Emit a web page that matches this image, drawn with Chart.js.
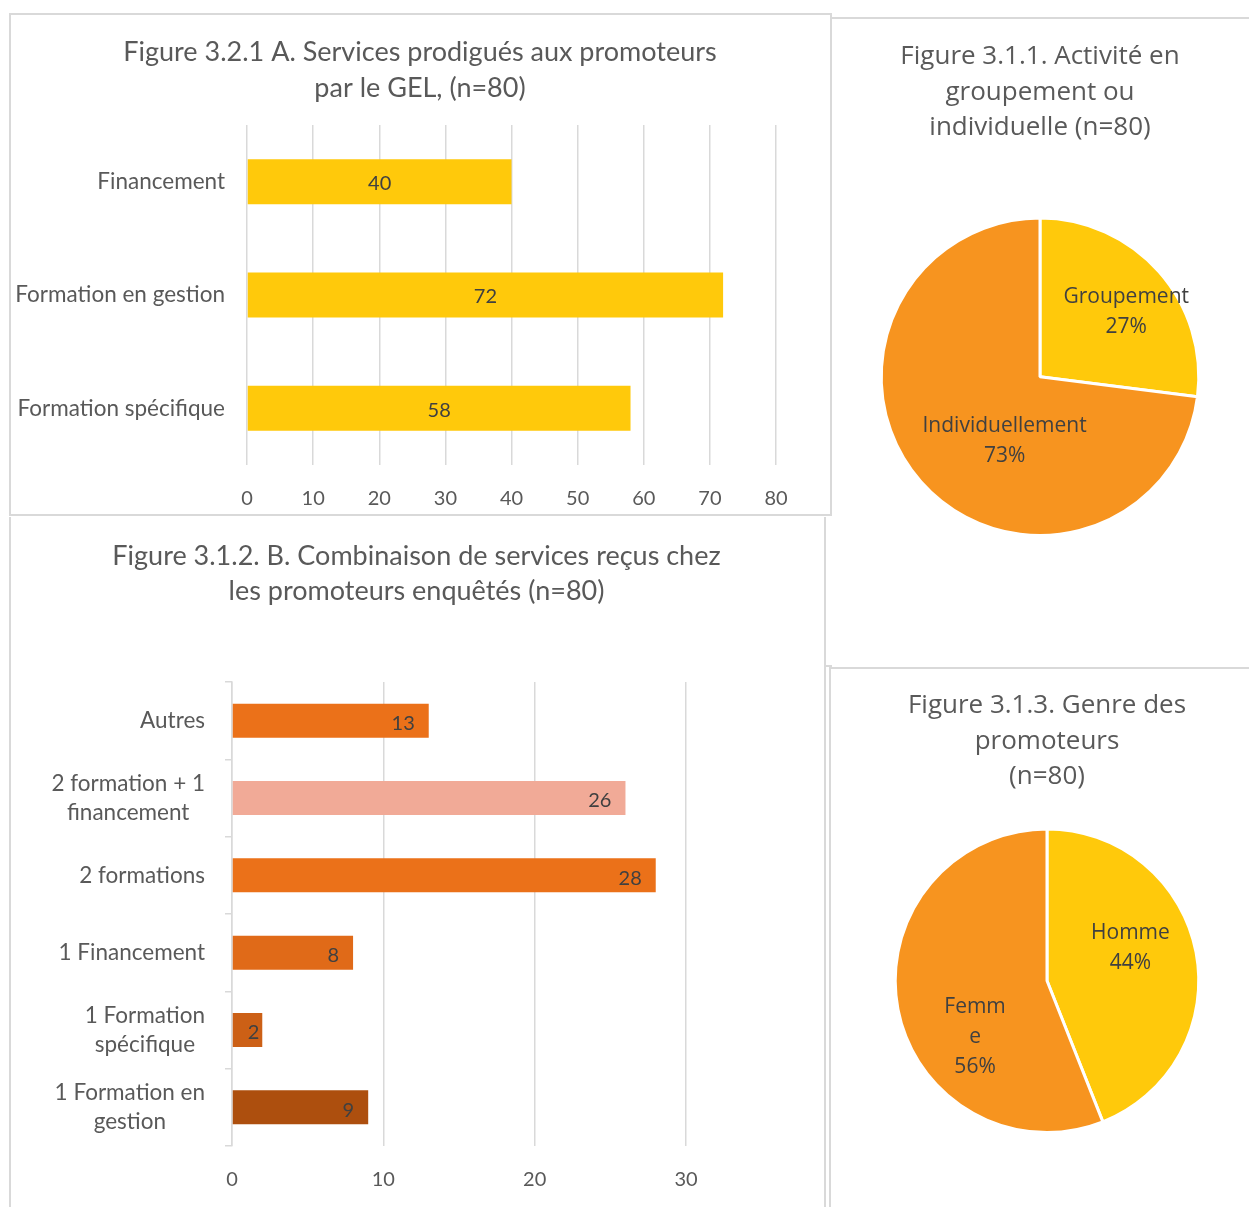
<!DOCTYPE html>
<html lang="fr">
<head>
<meta charset="utf-8">
<title>Services aux promoteurs</title>
<script src="https://cdn.jsdelivr.net/npm/chart.js@4/dist/chart.umd.min.js"></script>
<style>
  body { margin: 0; background: #fff; width: 1249px; height: 1207px; overflow: hidden; position: relative; }
  .panel { position: absolute; box-sizing: border-box; border: 2px solid #d9d9d9; }
  .line { position: absolute; background: #d9d9d9; }
  canvas { position: absolute; }
</style>
</head>
<body>
<div class="panel" style="left:9px;top:13px;width:823px;height:503px;"></div>
<div class="panel" style="left:831px;top:17px;width:430px;height:652px;border-left:none;"></div>
<div class="line" style="left:824px;top:665px;width:8px;height:2px;"></div>
<div class="panel" style="left:9px;top:517px;width:817px;height:720px;border-top:none;"></div>
<div class="panel" style="left:829px;top:667px;width:430px;height:560px;border-top:none;border-right:none;"></div>

<canvas id="servicesChart" style="left:11px;top:15px;" width="818" height="498"></canvas>
<canvas id="activiteChart" style="left:831px;top:19px;" width="418" height="646"></canvas>
<canvas id="combinaisonChart" style="left:11px;top:519px;" width="811" height="688"></canvas>
<canvas id="genreChart" style="left:831px;top:669px;" width="418" height="538"></canvas>

<script>
// Figure 3.2.1 A
const servicesLabels = ['Financement', 'Formation en gestion', 'Formation spécifique'];
const servicesValues = [40, 72, 58];

// Figure 3.1.1
const activiteLabels = ['Groupement', 'Individuellement'];
const activiteValues = [27, 73];

// Figure 3.1.2 B
const combinaisonLabels = [
  'Autres',
  ['2 formation + 1', 'financement'],
  '2 formations',
  '1 Financement',
  ['1 Formation', 'spécifique'],
  ['1 Formation en', 'gestion']
];
const combinaisonValues = [13, 26, 28, 8, 2, 9];

// Figure 3.1.3
const genreLabels = ['Homme', ['Femm', 'e']];
const genreValues = [44, 56];

const textGrey = '#595959';
const labelGrey = '#404040';
const gridGrey = '#d9d9d9';
const barFont = 'Lato';
const pieFont = "'Open Sans'";

Chart.defaults.animation = false;
Chart.defaults.font.family = barFont;
Chart.defaults.color = textGrey;
Chart.defaults.plugins.legend.display = false;
Chart.defaults.plugins.tooltip.enabled = false;

// valeurs sur les barres / secteurs
const valueLabels = {
  id: 'valueLabels',
  afterDatasetsDraw(chart, args, opts) {
    if (!opts.mode) return;
    const ctx = chart.ctx;
    const meta = chart.getDatasetMeta(0);
    const data = chart.data.datasets[0].data;
    ctx.save();
    ctx.fillStyle = labelGrey;
    ctx.font = opts.font;
    ctx.textAlign = 'center';
    ctx.textBaseline = 'middle';
    meta.data.forEach((el, i) => {
      const v = String(data[i]);
      if (opts.mode === 'center') {
        ctx.fillText(v, (el.x + el.base) / 2, el.y + 2);
      } else if (opts.mode === 'end') {
        const w = ctx.measureText(v).width;
        let x = el.x - 14 - w / 2;
        if (el.x - el.base < w + 20) x = el.x - 3 - w / 2;
        ctx.fillText(v, x, el.y + 3);
      } else if (opts.mode === 'pie') {
        const p = opts.pos[i];
        const a = (el.startAngle + el.endAngle) / 2 + p[0] * Math.PI / 180;
        const r = el.outerRadius * p[1];
        const cx = el.x + Math.cos(a) * r;
        const cy = el.y + Math.sin(a) * r;
        const lines = [].concat(chart.data.labels[i], v + '%');
        const lh = opts.lineHeight;
        lines.forEach((t, k) => {
          ctx.fillText(t, cx, cy + (k - (lines.length - 1) / 2) * lh);
        });
      }
    });
    ctx.restore();
  }
};

// étiquettes de catégories : bloc aligné à droite, lignes centrées
const blockLabels = {
  id: 'blockLabels',
  afterDraw(chart, args, opts) {
    if (!opts.font) return;
    const ctx = chart.ctx;
    const yScale = chart.scales.y;
    ctx.save();
    ctx.font = opts.font;
    ctx.fillStyle = textGrey;
    ctx.textAlign = 'center';
    ctx.textBaseline = 'middle';
    chart.data.labels.forEach((lab, i) => {
      const lines = [].concat(lab);
      const bw = Math.max(...lines.map(t => ctx.measureText(t).width));
      const cx = chart.chartArea.left - opts.gap - bw / 2;
      const cy = yScale.getPixelForValue(i);
      lines.forEach((t, k) => {
        ctx.fillText(t, cx, cy + (k - (lines.length - 1) / 2) * opts.lineHeight);
      });
    });
    ctx.restore();
  }
};

Chart.register(valueLabels, blockLabels);

// axe vide à droite : réserve la marge sans décentrer le titre
function spacerAxis(w) {
  return {
    type: 'category', position: 'right', display: true,
    ticks: { display: false }, grid: { display: false }, border: { display: false },
    afterFit(scale) { scale.width = w; }
  };
}

new Chart(document.getElementById('servicesChart'), {
  type: 'bar',
  data: {
    labels: servicesLabels,
    datasets: [{
      data: servicesValues,
      backgroundColor: '#FFC90B',
      categoryPercentage: 1,
      barPercentage: 0.397
    }]
  },
  options: {
    responsive: false,
    indexAxis: 'y',
    layout: { padding: 0 },
    plugins: {
      title: {
        display: true,
        text: ['Figure 3.2.1 A. Services prodigués aux promoteurs', 'par le GEL, (n=80)'],
        color: textGrey,
        font: { family: barFont, size: 27, weight: 'normal', lineHeight: 36 / 27 },
        padding: { top: 19, bottom: 19 }
      },
      valueLabels: { mode: 'center', font: '20px ' + barFont }
    },
    scales: {
      x: {
        min: 0, max: 80,
        ticks: { stepSize: 10, padding: 22, font: { size: 20 }, color: textGrey },
        grid: { color: gridGrey, lineWidth: 1.5, drawTicks: false },
        border: { display: false },
        afterFit(scale) { scale.height = 48; }
      },
      y: {
        ticks: { padding: 14, font: { size: 22.5 }, color: textGrey },
        grid: { display: false },
        border: { display: false },
        afterFit(scale) { scale.width = 236; }
      },
      pad: spacerAxis(53)
    }
  }
});

new Chart(document.getElementById('activiteChart'), {
  type: 'pie',
  data: {
    labels: activiteLabels,
    datasets: [{
      data: activiteValues,
      backgroundColor: ['#FFC90B', '#F7941F'],
      borderColor: '#ffffff',
      borderWidth: 3
    }]
  },
  options: {
    responsive: false,
    layout: { padding: { left: 0, right: 0, top: 0, bottom: 128 } },
    plugins: {
      title: {
        display: true,
        text: ['Figure 3.1.1. Activité en', 'groupement ou', 'individuelle (n=80)'],
        color: textGrey,
        font: { family: pieFont, size: 26, weight: 'normal', lineHeight: 35.5 / 26 },
        padding: { top: 20, bottom: 71 }
      },
      valueLabels: { mode: 'pie', font: '21px ' + pieFont, lineHeight: 30, pos: [[4.4, 0.68], [-19.6, 0.46]] }
    }
  }
});

new Chart(document.getElementById('combinaisonChart'), {
  type: 'bar',
  data: {
    labels: combinaisonLabels,
    datasets: [{
      data: combinaisonValues,
      backgroundColor: ['#EB7119', '#F1AA97', '#EB7119', '#E06A18', '#CC6016', '#AD4F0E'],
      categoryPercentage: 1,
      barPercentage: 0.44
    }]
  },
  options: {
    responsive: false,
    indexAxis: 'y',
    layout: { padding: 0 },
    plugins: {
      title: {
        display: true,
        text: ['Figure 3.1.2. B. Combinaison de services reçus chez', 'les promoteurs enquêtés (n=80)'],
        color: textGrey,
        font: { family: barFont, size: 27, weight: 'normal', lineHeight: 35 / 27 },
        padding: { top: 20, bottom: 73 }
      },
      valueLabels: { mode: 'end', font: '20px ' + barFont },
      blockLabels: { font: '22.5px ' + barFont, gap: 27, lineHeight: 29 }
    },
    scales: {
      x: {
        min: 0, max: 30,
        ticks: { stepSize: 10, padding: 22, font: { size: 20 }, color: textGrey },
        grid: { color: gridGrey, lineWidth: 1.5, drawTicks: false },
        border: { display: false },
        afterFit(scale) { scale.height = 61; }
      },
      y: {
        ticks: { display: false },
        grid: { color: gridGrey, lineWidth: 1.5, offset: true, drawOnChartArea: false, drawTicks: true, tickLength: 7 },
        border: { display: true, color: gridGrey, width: 1.5 },
        afterFit(scale) { scale.width = 221; }
      },
      pad: spacerAxis(136)
    }
  }
});

new Chart(document.getElementById('genreChart'), {
  type: 'pie',
  data: {
    labels: genreLabels,
    datasets: [{
      data: genreValues,
      backgroundColor: ['#FFC90B', '#F7941F'],
      borderColor: '#ffffff',
      borderWidth: 3
    }]
  },
  options: {
    responsive: false,
    layout: { padding: { left: 14, right: 0, top: 0, bottom: 73 } },
    plugins: {
      title: {
        display: true,
        text: ['Figure 3.1.3. Genre des', 'promoteurs', '(n=80)'],
        color: textGrey,
        font: { family: pieFont, size: 26, weight: 'normal', lineHeight: 35.5 / 26 },
        padding: { top: 19, bottom: 33 }
      },
      valueLabels: { mode: 'pie', font: '21px ' + pieFont, lineHeight: 30, pos: [[-10.5, 0.59], [-27, 0.6]] }
    }
  }
});
</script>
</body>
</html>
